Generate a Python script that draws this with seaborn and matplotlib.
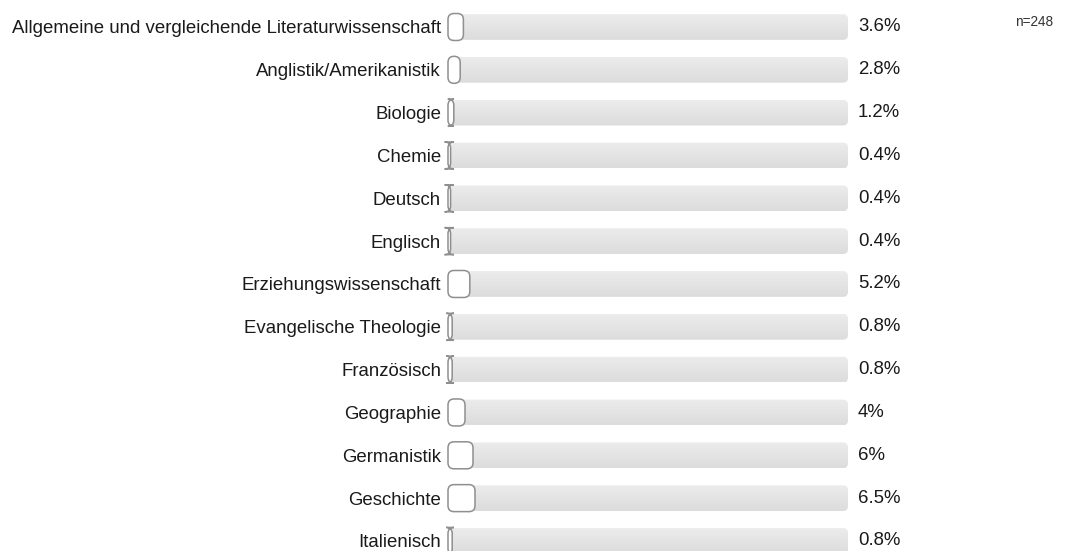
import numpy as np
import pandas as pd
import matplotlib
matplotlib.use("Agg")
import matplotlib.pyplot as plt
from matplotlib.patches import FancyBboxPatch
import seaborn as sns

subjects = [
    "Allgemeine und vergleichende Literaturwissenschaft",
    "Anglistik/Amerikanistik",
    "Biologie",
    "Chemie",
    "Deutsch",
    "Englisch",
    "Erziehungswissenschaft",
    "Evangelische Theologie",
    "Französisch",
    "Geographie",
    "Germanistik",
    "Geschichte",
    "Italienisch",
]
shares = [3.6, 2.8, 1.2, 0.4, 0.4, 0.4, 5.2, 0.8, 0.8, 4.0, 6.0, 6.5, 0.8]
share_labels = ["3.6%", "2.8%", "1.2%", "0.4%", "0.4%", "0.4%", "5.2%",
                "0.8%", "0.8%", "4%", "6%", "6.5%", "0.8%"]
full_scale = [100.0] * len(subjects)
sample_note = "n=248"

sns.set_theme(style="white")
plt.rcParams["font.family"] = ["Liberation Sans", "DejaVu Sans"]

W, H, DPI = 1070, 551, 100
fig = plt.figure(figsize=(W / DPI, H / DPI), dpi=DPI)
ax_left, ax_right = 448 / W, 848 / W
ax = fig.add_axes([ax_left, 0.0, ax_right - ax_left, 1.0])

df = pd.DataFrame({"subject": subjects, "share": shares, "full": full_scale})

sns.barplot(data=df, x="full", y="subject", orient="h", color="#e3e3e3",
            width=0.6, ax=ax)
n_track = len(ax.patches)
sns.barplot(data=df, x="share", y="subject", orient="h", color="white",
            width=0.63, ax=ax)

row_gap = 42.83
first_row = 27.0
ax.set_xlim(0, 100)
ax.set_ylim((H - first_row) / row_gap, -first_row / row_gap)

# data units per pixel, used to keep corner radii circular
x_per_px = 100 / 400
y_per_px = (ax.get_ylim()[0] - ax.get_ylim()[1]) / H
aspect = y_per_px / x_per_px
track_radius_px = 5.0
bar_radius_px = 6.0

grad = np.linspace(0, 1, 64).reshape(-1, 1)
track_cmap = matplotlib.colors.LinearSegmentedColormap.from_list(
    "track", ["#ececec", "#dcdcdc"])

rects = list(ax.patches)
for p in rects:
    p.remove()

for i, p in enumerate(rects):
    x0, y0, w, h = p.get_x(), p.get_y(), p.get_width(), p.get_height()
    if i < n_track:
        box = FancyBboxPatch((x0, y0), w, h,
                             boxstyle=f"round,pad=0,rounding_size={track_radius_px * x_per_px}",
                             mutation_aspect=aspect, facecolor="none",
                             edgecolor="none", zorder=1)
        ax.add_patch(box)
        im = ax.imshow(grad, cmap=track_cmap, aspect="auto",
                       extent=(x0, x0 + w, y0 + h, y0), zorder=1,
                       interpolation="bilinear")
        im.set_clip_path(box)
    else:
        box = FancyBboxPatch((x0, y0), w + x_per_px, h,
                             boxstyle=f"round,pad=0,rounding_size={bar_radius_px * x_per_px}",
                             mutation_aspect=aspect, facecolor="white",
                             edgecolor="#8f8f8f", linewidth=1.1, zorder=3,
                             clip_on=False)
        ax.add_patch(box)

ax.set_xlim(0, 100)
ax.set_ylim((H - first_row) / row_gap, -first_row / row_gap)

for i, lab in enumerate(share_labels):
    ax.annotate(lab, xy=(100, i), xytext=(7.2, 0), textcoords="offset points",
                ha="left", va="center", fontsize=13.45, color="#1a1a1a",
                annotation_clip=False)

ax.set_xlabel("")
ax.set_ylabel("")
ax.set_xticks([])
ax.tick_params(axis="y", length=0, pad=5, labelsize=13.45, labelcolor="#1a1a1a")
for s in ax.spines.values():
    s.set_visible(False)
ax.patch.set_alpha(0)

fig.text(1015 / W, 1 - 22 / H, sample_note, ha="left", va="center",
         fontsize=9.8, color="#333333")

fig.savefig("out.png", dpi=DPI, facecolor="white")
